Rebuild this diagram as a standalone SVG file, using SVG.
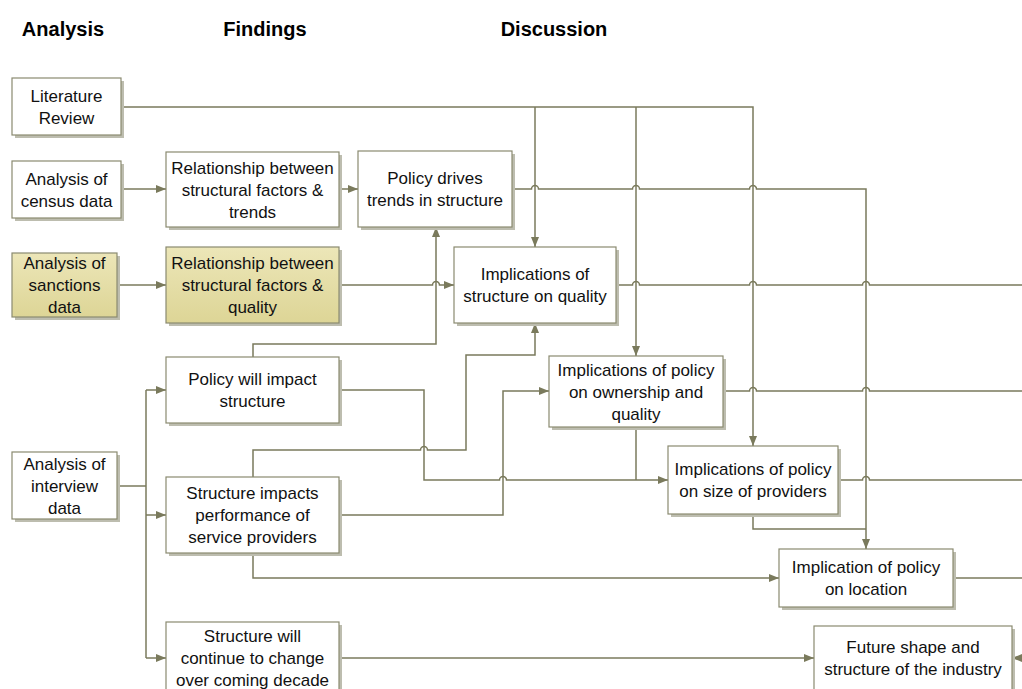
<svg xmlns="http://www.w3.org/2000/svg" width="1022" height="689" viewBox="0 0 1022 689">
  <style>
    .head { font-family: "Liberation Sans", Arial, sans-serif; font-size: 20px; font-weight: bold; fill: #000; text-anchor: middle; }
    .lbl { font-family: "Liberation Sans", Arial, sans-serif; font-size: 17px; fill: #111; text-anchor: middle; }
    .box { fill: #ffffff; stroke: #8a8a70; stroke-width: 1.2; }
    .hl { fill: url(#khaki); stroke: #8a8a70; stroke-width: 1.2; }
    .shadow { fill: #bdbdaf; }
    .wire { fill: none; stroke: #7a7a5c; stroke-width: 1.5; }
    .arrow { marker-end: url(#head); }
  </style>
  <defs>
    <linearGradient id="khaki" x1="0" y1="0" x2="0" y2="1">
      <stop offset="0" stop-color="#ece6b8"/>
      <stop offset="1" stop-color="#ddd596"/>
    </linearGradient>
    <marker id="head" markerUnits="userSpaceOnUse" markerWidth="11" markerHeight="9" refX="10" refY="4" orient="auto">
      <path d="M0,0 L10,4 L0,8 z" fill="#7a7a5c"/>
    </marker>
  </defs>

  <rect width="1022" height="689" fill="#ffffff"/>

  <!-- column headings -->
  <text class="head" x="63" y="36">Analysis</text>
  <text class="head" x="265" y="36">Findings</text>
  <text class="head" x="554" y="36">Discussion</text>

  <!-- connectors (horizontal runs hop over vertical ones) -->
  <g id="connectors">
    <path class="wire arrow" d="M121,107 H753 V446"/>
    <path class="wire arrow" d="M535,107 V247"/>
    <path class="wire arrow" d="M636,107 V356"/>
    <path class="wire arrow" d="M121,189 H166"/>
    <path class="wire arrow" d="M339,189 H358"/>
    <path class="wire arrow" d="M512,189 H531.5 A3.5,3.5 0 0 1 538.5,189 H632.5 A3.5,3.5 0 0 1 639.5,189 H749.5 A3.5,3.5 0 0 1 756.5,189 H866 V549"/>
    <path class="wire arrow" d="M117,285 H166"/>
    <path class="wire arrow" d="M339,285 H432.5 A3.5,3.5 0 0 1 439.5,285 H454"/>
    <path class="wire" d="M616,285 H632.5 A3.5,3.5 0 0 1 639.5,285 H749.5 A3.5,3.5 0 0 1 756.5,285 H862.5 A3.5,3.5 0 0 1 869.5,285 H1022"/>
    <path class="wire arrow" d="M253,357 V344 H436 V227"/>
    <path class="wire arrow" d="M339,390 H424 V480 H499.5 A3.5,3.5 0 0 1 506.5,480 H668"/>
    <path class="wire" d="M636,427 V480"/>
    <path class="wire arrow" d="M253,477 V450 H420.5 A3.5,3.5 0 0 1 427.5,450 H466 V355 H535 V323"/>
    <path class="wire arrow" d="M339,515 H503 V391 H549"/>
    <path class="wire arrow" d="M253,553 V578 H779"/>
    <path class="wire" d="M117,486 H146"/>
    <path class="wire" d="M146,390 V658"/>
    <path class="wire arrow" d="M146,390 H166"/>
    <path class="wire arrow" d="M146,515 H166"/>
    <path class="wire arrow" d="M146,658 H166"/>
    <path class="wire arrow" d="M339,658 H814"/>
    <path class="wire" d="M723,391 H749.5 A3.5,3.5 0 0 1 756.5,391 H862.5 A3.5,3.5 0 0 1 869.5,391 H1022"/>
    <path class="wire" d="M838,480 H862.5 A3.5,3.5 0 0 1 869.5,480 H1022"/>
    <path class="wire" d="M753,514 V529 H866"/>
    <path class="wire" d="M953,578 H1022"/>
    <path class="wire arrow" d="M1024,658 H1012"/>
  </g>

  <g id="literature-review">
    <rect class="shadow" x="15" y="81" width="109" height="57"/>
    <rect class="box" x="12" y="78" width="109" height="57"/>
    <text class="lbl" x="66.5" y="101.5">Literature</text>
    <text class="lbl" x="66.5" y="123.5">Review</text>
  </g>

  <g id="census-data">
    <rect class="shadow" x="15" y="164" width="109" height="57"/>
    <rect class="box" x="12" y="161" width="109" height="57"/>
    <text class="lbl" x="66.5" y="184.5">Analysis of</text>
    <text class="lbl" x="66.5" y="206.5">census data</text>
  </g>

  <g id="sanctions-data">
    <rect class="shadow" x="15" y="256" width="105" height="64"/>
    <rect class="hl" x="12" y="253" width="105" height="64"/>
    <text class="lbl" x="64.5" y="269">Analysis of</text>
    <text class="lbl" x="64.5" y="291">sanctions</text>
    <text class="lbl" x="64.5" y="313">data</text>
  </g>

  <g id="interview-data">
    <rect class="shadow" x="15" y="455" width="105" height="67"/>
    <rect class="box" x="12" y="452" width="105" height="67"/>
    <text class="lbl" x="64.5" y="469.5">Analysis of</text>
    <text class="lbl" x="64.5" y="491.5">interview</text>
    <text class="lbl" x="64.5" y="513.5">data</text>
  </g>

  <g id="factors-trends">
    <rect class="shadow" x="169" y="155" width="173" height="75"/>
    <rect class="box" x="166" y="152" width="173" height="75"/>
    <text class="lbl" x="252.5" y="173.5">Relationship between</text>
    <text class="lbl" x="252.5" y="195.5">structural factors &amp;</text>
    <text class="lbl" x="252.5" y="217.5">trends</text>
  </g>

  <g id="factors-quality">
    <rect class="shadow" x="169" y="250" width="173" height="76"/>
    <rect class="hl" x="166" y="247" width="173" height="76"/>
    <text class="lbl" x="252.5" y="269">Relationship between</text>
    <text class="lbl" x="252.5" y="291">structural factors &amp;</text>
    <text class="lbl" x="252.5" y="313">quality</text>
  </g>

  <g id="policy-impact">
    <rect class="shadow" x="169" y="360" width="173" height="66"/>
    <rect class="box" x="166" y="357" width="173" height="66"/>
    <text class="lbl" x="252.5" y="385">Policy will impact</text>
    <text class="lbl" x="252.5" y="407">structure</text>
  </g>

  <g id="structure-performance">
    <rect class="shadow" x="169" y="480" width="173" height="76"/>
    <rect class="box" x="166" y="477" width="173" height="76"/>
    <text class="lbl" x="252.5" y="499">Structure impacts</text>
    <text class="lbl" x="252.5" y="521">performance of</text>
    <text class="lbl" x="252.5" y="543">service providers</text>
  </g>

  <g id="structure-change">
    <rect class="shadow" x="169" y="625" width="173" height="80"/>
    <rect class="box" x="166" y="622" width="173" height="80"/>
    <text class="lbl" x="252.5" y="642">Structure will</text>
    <text class="lbl" x="252.5" y="664">continue to change</text>
    <text class="lbl" x="252.5" y="686">over coming decade</text>
  </g>

  <g id="policy-drives">
    <rect class="shadow" x="361" y="154" width="154" height="76"/>
    <rect class="box" x="358" y="151" width="154" height="76"/>
    <text class="lbl" x="435" y="184">Policy drives</text>
    <text class="lbl" x="435" y="206">trends in structure</text>
  </g>

  <g id="structure-quality">
    <rect class="shadow" x="457" y="250" width="162" height="76"/>
    <rect class="box" x="454" y="247" width="162" height="76"/>
    <text class="lbl" x="535" y="280">Implications of</text>
    <text class="lbl" x="535" y="302">structure on quality</text>
  </g>

  <g id="ownership-quality">
    <rect class="shadow" x="552" y="359" width="174" height="71"/>
    <rect class="box" x="549" y="356" width="174" height="71"/>
    <text class="lbl" x="636" y="375.5">Implications of policy</text>
    <text class="lbl" x="636" y="397.5">on ownership and</text>
    <text class="lbl" x="636" y="419.5">quality</text>
  </g>

  <g id="provider-size">
    <rect class="shadow" x="671" y="449" width="170" height="68"/>
    <rect class="box" x="668" y="446" width="170" height="68"/>
    <text class="lbl" x="753" y="475">Implications of policy</text>
    <text class="lbl" x="753" y="497">on size of providers</text>
  </g>

  <g id="location">
    <rect class="shadow" x="782" y="552" width="174" height="58"/>
    <rect class="box" x="779" y="549" width="174" height="58"/>
    <text class="lbl" x="866" y="573">Implication of policy</text>
    <text class="lbl" x="866" y="595">on location</text>
  </g>

  <g id="future-shape">
    <rect class="shadow" x="817" y="629" width="198" height="80"/>
    <rect class="box" x="814" y="626" width="198" height="80"/>
    <text class="lbl" x="913" y="653">Future shape and</text>
    <text class="lbl" x="913" y="675">structure of the industry</text>
  </g>
</svg>
